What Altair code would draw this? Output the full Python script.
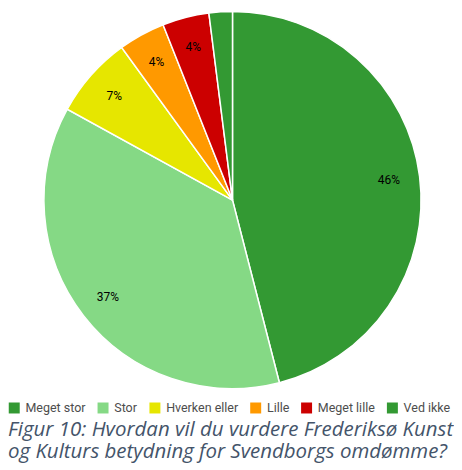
import altair as alt
import pandas as pd

categories = ["Meget stor", "Stor", "Hverken eller", "Lille", "Meget lille", "Ved ikke"]
values = [46, 37, 7, 4, 4, 2]
labels = ["46%", "37%", "7%", "4%", "4%", ""]
colors = ["#339933", "#85d985", "#e6e600", "#ff9900", "#cc0000", "#339933"]

caption = ["Figur 10: Hvordan vil du vurdere Frederiksø Kunst",
           "og Kulturs betydning for Svendborgs omdømme?"]

df = pd.DataFrame({
    "cat": categories,
    "val": values,
    "label": labels,
    "order": list(range(len(categories))),
})

base = alt.Chart(df).encode(
    theta=alt.Theta("val:Q", stack=True),
    order=alt.Order("order:Q", sort="ascending"),
    x=alt.value(225),
    y=alt.value(190),
)

pie = base.mark_arc(outerRadius=189, stroke="white", strokeWidth=1.5).encode(
    color=alt.Color(
        "cat:N",
        scale=alt.Scale(domain=categories, range=colors),
        sort=categories,
        legend=alt.Legend(
            title=None,
            orient="none",
            legendX=0,
            legendY=392,
            direction="horizontal",
            columns=6,
            symbolType="square",
            symbolSize=121,
            symbolStrokeWidth=0,
            symbolOpacity=1,
            labelFontSize=12.5,
            labelFont="Roboto",
            labelColor="#4d4d4d",
            columnPadding=11,
            labelOffset=5,
        ),
    )
)

text = base.mark_text(radius=158, fontSize=12, font="Roboto", color="#000000").encode(
    text="label:N"
)

chart = (
    alt.layer(pie, text)
    .properties(
        width=446,
        height=380,
        padding=0,
        autosize=alt.AutoSizeParams(type="pad"),
        title=alt.TitleParams(
            text=caption,
            orient="bottom",
            anchor="start",
            frame="group",
            font="Open Sans",
            fontStyle="italic",
            fontWeight="normal",
            fontSize=20.5,
            lineHeight=23,
            color="#44546a",
            offset=5,
        ),
    )
    .configure_view(stroke=None)
)

chart.save("out.html", embed_options={"renderer": "svg", "actions": False})
